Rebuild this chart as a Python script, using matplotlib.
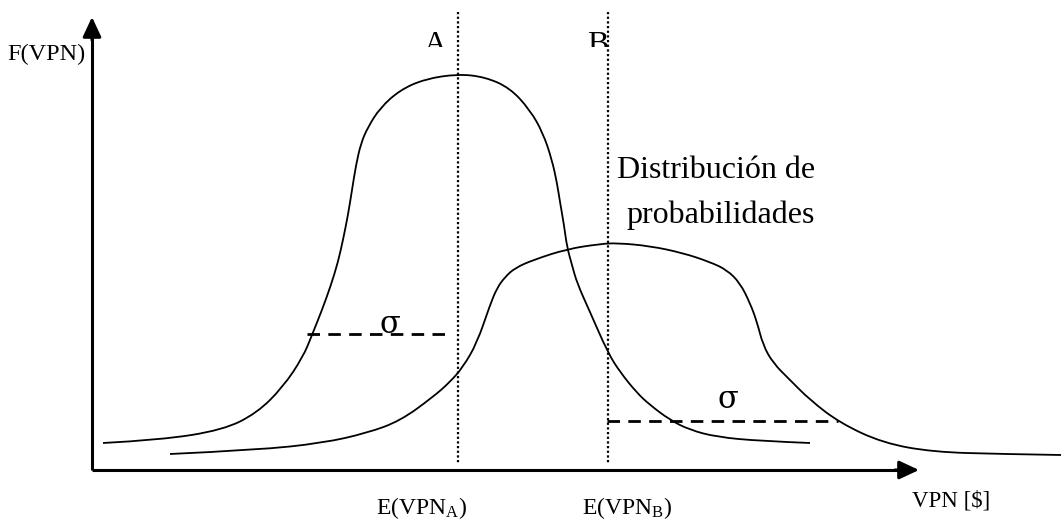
import matplotlib
matplotlib.use("Agg")
import matplotlib.pyplot as plt
from matplotlib.path import Path
from matplotlib.patches import PathPatch
from matplotlib.transforms import Bbox, TransformedBbox

plt.rcParams['mathtext.fontset'] = 'custom'
plt.rcParams['mathtext.rm'] = 'Liberation Serif'
plt.rcParams['mathtext.it'] = 'Liberation Serif'
SERIF = ['Liberation Serif', 'DejaVu Serif']

# ---- data (pixel-space sketch coordinates) ----
curve_a_x = [103, 160, 223, 257, 283, 303, 312, 322, 331, 338, 343, 348, 352, 356, 361,
             368, 380, 400, 425, 458, 485, 510, 530, 543, 552, 557, 560, 564, 567, 572,
             577, 590, 608, 620, 637, 650, 670, 690, 717, 760, 810]
curve_a_y = [443, 440, 430, 413, 387, 357, 335, 310, 285, 262, 240, 215, 190, 165, 143,
             127, 108, 90, 79, 74, 77, 88, 110, 133, 160, 183, 202, 225, 247, 265,
             283, 312, 353, 372, 393, 405, 420, 430, 437, 441, 443]

curve_b_x = [170, 257, 323, 367, 400, 433, 450, 463, 477, 490, 497, 505, 515, 533, 567,
             600, 617, 650, 683, 710, 727, 740, 750, 757, 763, 773, 790, 810, 840, 883,
             933, 1000, 1061]
curve_b_y = [454, 450, 443, 433, 421, 397, 382, 367, 343, 305, 288, 277, 268, 260, 249,
             244, 243, 246, 253, 262, 270, 283, 303, 322, 345, 363, 380, 400, 423, 443,
             452, 454, 455]

mean_x = [458, 608]                 # E(VPN_A), E(VPN_B)
mean_labels = [r'E(VPN$_{\mathrm{A}}$)', r'E(VPN$_{\mathrm{B}}$)']
curve_names = ['A', 'B']
sigma_a = (307, 448, 334)           # x0, x1, y
sigma_b = (607, 838, 421)

fig = plt.figure(figsize=(10.61, 5.2), dpi=100)
ax = fig.add_axes([0, 0, 1, 1])
ax.set_xlim(0, 1061)
ax.set_ylim(520, 0)
ax.axis('off')


def smooth_path(xs, ys):
    pts = list(zip(xs, ys))
    verts = [pts[0]]
    codes = [Path.MOVETO]
    for i in range(1, len(pts) - 2):
        mid = ((pts[i][0] + pts[i + 1][0]) / 2, (pts[i][1] + pts[i + 1][1]) / 2)
        verts += [pts[i], mid]
        codes += [Path.CURVE3, Path.CURVE3]
    verts += [pts[-2], pts[-1]]
    codes += [Path.CURVE3, Path.CURVE3]
    return Path(verts, codes)


for xs, ys in [(curve_a_x, curve_a_y), (curve_b_x, curve_b_y)]:
    ax.add_patch(PathPatch(smooth_path(xs, ys), fill=False, lw=1.3, ec='black',
                           capstyle='butt'))

# axes with arrows
ax.plot([92, 92], [470, 30], color='black', lw=2.2, solid_capstyle='butt')
ax.plot([92, 905], [470, 470], color='black', lw=2.2, solid_capstyle='butt')
ax.annotate('', xy=(92, 17), xytext=(92, 40),
            arrowprops=dict(arrowstyle='-|>,head_length=0.6,head_width=0.28',
                            lw=2.2, color='black', mutation_scale=20,
                            shrinkA=0, shrinkB=0))
ax.annotate('', xy=(919, 470), xytext=(895, 470),
            arrowprops=dict(arrowstyle='-|>,head_length=0.6,head_width=0.28',
                            lw=2.2, color='black', mutation_scale=20,
                            shrinkA=0, shrinkB=0))

# dotted mean lines
for mx in mean_x:
    ax.plot([mx, mx], [12, 463], color='black', lw=1.6, linestyle=(0, (1, 1.1)))

# sigma dashed lines
for (x0, x1, y) in [sigma_a, sigma_b]:
    ax.plot([x0, x1], [y, y], color='black', lw=2.0, linestyle=(0, (4.5, 3)))

ax.text(390, 333, 'σ', fontsize=22, family=['DejaVu Serif'], ha='center', va='baseline')
ax.text(728, 408, 'σ', fontsize=22, family=['DejaVu Serif'], ha='center', va='baseline')

# clipped curve names at top (lower part cut off as in the reference)
clip_box = TransformedBbox(Bbox([[0, 0], [1061, 47]]), ax.transData)
for name, px in zip(curve_names, [435, 598]):
    t = ax.text(px, 53, name, fontsize=23, family=SERIF, ha='center', va='baseline')
    t.set_clip_on(True)
    t.set_clip_box(clip_box)

# labels
ax.text(46, 60, 'F(VPN)', fontsize=17.5, family=SERIF, ha='center', va='baseline')
ax.text(951, 506, 'VPN [$]', fontsize=16.5, family=SERIF, ha='center', va='baseline')
for mx, lab, cx in zip(mean_x, mean_labels, [422, 627]):
    ax.text(cx, 514, lab, fontsize=17, family=SERIF, ha='center', va='baseline')

ax.text(716, 178, 'Distribución de', fontsize=23, family=SERIF, ha='center', va='baseline')
ax.text(721, 223, 'probabilidades', fontsize=23, family=SERIF, ha='center', va='baseline')

fig.savefig('out.png', dpi=100)
